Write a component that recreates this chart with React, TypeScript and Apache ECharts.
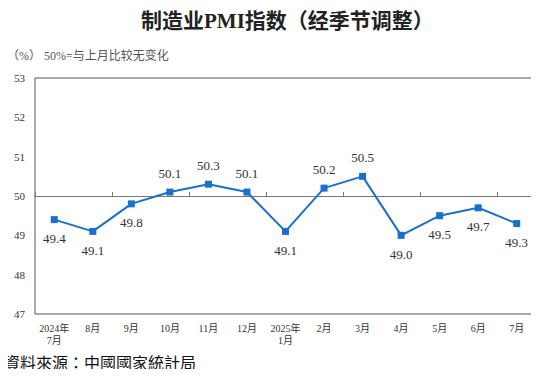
import React, { useEffect, useRef } from "react";
import * as echarts from "echarts";

const categories = ["2024年\n7月", "8月", "9月", "10月", "11月", "12月", "2025年\n1月", "2月", "3月", "4月", "5月", "6月", "7月"];
const pmiValues = [49.4, 49.1, 49.8, 50.1, 50.3, 50.1, 49.1, 50.2, 50.5, 49.0, 49.5, 49.7, 49.3];
const yTicks = [47, 48, 49, 50, 51, 52, 53];
const baseline = 50;

const serif = "'Liberation Serif', 'Times New Roman', 'Noto Sans CJK SC', serif";

export default function App() {
  const ref = useRef<HTMLDivElement>(null);
  useEffect(() => {
    if (!ref.current) return;
    const chart = echarts.init(ref.current, null, { renderer: "svg" });
    const yMin = yTicks[0];
    const yMax = yTicks[yTicks.length - 1];
    const gridTop = 78;
    const gridBottom = 63;
    const plotH = 377 - gridTop - gridBottom;
    const baseOffset = -((baseline - yMin) / (yMax - yMin)) * plotH;
    chart.setOption({
      animation: false,
      title: [
        {
          text: "制造业PMI指数（经季节调整）",
          left: 136,
          top: 5,
          textStyle: { fontFamily: "'Liberation Serif', 'Noto Sans CJK SC', serif", fontSize: 21, fontWeight: 600, color: "#222" },
        },
        {
          text: "（%） 50%=与上月比较无变化",
          left: 2,
          top: 45,
          textStyle: { fontFamily: serif, fontSize: 12, fontWeight: "normal", color: "#555" },
        },
        {
          text: "資料來源：中國國家統計局",
          left: 4,
          top: 352,
          padding: 0,
          textStyle: { fontFamily: "'Noto Sans CJK TC', sans-serif", fontSize: 16, lineHeight: 20, fontWeight: "normal", color: "#111" },
        },
      ],
      grid: { left: 35, right: 3, top: gridTop, bottom: gridBottom, show: true, borderColor: "#555", borderWidth: 1, backgroundColor: "transparent" },
      xAxis: [
        {
          type: "category",
          data: categories,
          boundaryGap: true,
          position: "bottom",
          axisLine: { show: false },
          axisTick: { show: false },
          axisLabel: { fontFamily: serif, fontSize: 10, color: "#333", margin: 8, lineHeight: 12, interval: 0 },
        },
        {
          type: "category",
          data: categories,
          boundaryGap: true,
          position: "bottom",
          offset: baseOffset,
          axisLine: { show: true, onZero: false, lineStyle: { color: "#777", width: 1 } },
          axisTick: { show: true, inside: true, length: 4, lineStyle: { color: "#777" } },
          axisLabel: { show: false },
        },
      ],
      yAxis: {
        type: "value",
        min: yMin,
        max: yMax,
        interval: 1,
        axisLine: { show: false },
        axisTick: { show: false },
        splitLine: { show: false },
        axisLabel: { fontFamily: serif, fontSize: 11, color: "#333", margin: 10 },
      },
      series: [
        {
          type: "line",
          xAxisIndex: 0,
          data: pmiValues.map((v) => ({
            value: v,
            label: { position: v >= baseline ? "top" : "bottom" },
          })),
          symbol: "rect",
          symbolSize: 7,
          lineStyle: { color: "#1a6fcf", width: 2 },
          itemStyle: { color: "#1a6fcf" },
          label: {
            show: true,
            distance: 9,
            fontFamily: serif,
            fontSize: 13,
            color: "#333",
            formatter: (p: any) => Number(p.value).toFixed(1),
          },
        },
      ],
    });
    return () => chart.dispose();
  }, []);
  return <div ref={ref} style={{ width: 539, height: 377, margin: -8 }} />;
}
